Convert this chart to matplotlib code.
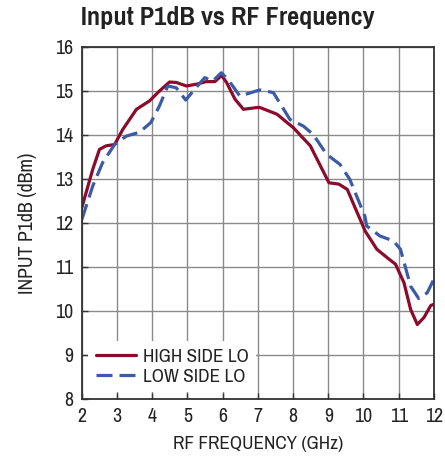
import matplotlib
matplotlib.use("Agg")
import matplotlib.pyplot as plt

# RF frequency (GHz) / input P1dB (dBm)
high_freq = [2.0, 2.31, 2.5, 2.69, 2.93, 3.16, 3.55, 3.92, 4.21, 4.49, 4.68, 4.97,
             5.25, 5.54, 5.78, 5.97, 6.11, 6.35, 6.59, 6.97, 7.06, 7.54, 8.01, 8.49,
             8.78, 9.02, 9.30, 9.54, 9.78, 10.05, 10.38, 10.67, 10.91, 11.15, 11.34,
             11.53, 11.72, 11.91, 12.0]
high_p1db = [12.35, 13.22, 13.67, 13.75, 13.78, 14.12, 14.58, 14.77, 15.0, 15.2, 15.19,
             15.11, 15.15, 15.21, 15.21, 15.35, 15.19, 14.81, 14.58, 14.62, 14.62, 14.47,
             14.16, 13.75, 13.29, 12.91, 12.88, 12.76, 12.31, 11.81, 11.40, 11.21, 11.06,
             10.64, 10.03, 9.69, 9.85, 10.12, 10.15]

low_freq = [2.0, 2.31, 2.59, 2.93, 3.26, 3.64, 3.96, 4.2, 4.44, 4.68, 4.95, 5.2, 5.49,
            5.72, 5.96, 6.15, 6.49, 6.97, 7.06, 7.44, 7.91, 8.29, 8.57, 8.95, 9.33,
            9.61, 10.04, 10.09, 10.47, 10.85, 11.05, 11.34, 11.57, 11.81, 12.0]
low_p1db = [12.08, 12.84, 13.37, 13.78, 13.97, 14.06, 14.28, 14.65, 15.11, 15.07, 14.79,
            15.03, 15.30, 15.22, 15.41, 15.26, 14.88, 15.0, 15.02, 14.96, 14.35, 14.2,
            14.01, 13.56, 13.33, 12.99, 12.15, 11.93, 11.70, 11.59, 11.40, 10.56, 10.28,
            10.41, 10.72]

x_ticks = list(range(2, 13))
y_ticks = list(range(8, 17))

plt.rcParams['font.family'] = ['Pragati Narrow', 'Archivo Narrow', 'DejaVu Sans']

fig = plt.figure(figsize=(4.45, 4.59), dpi=100)
ax = fig.add_axes([0.184, 0.131, 0.791, 0.767])

red = "#8c0a2c"
blue = "#3b5ba8"
ax.plot(high_freq, high_p1db, color=red, lw=2.3, label="HIGH SIDE LO",
        solid_joinstyle="round", solid_capstyle="round")
ax.plot(low_freq, low_p1db, color=blue, lw=2.3, label="LOW SIDE LO",
        dashes=(5, 2.2), dash_capstyle="butt")

ax.set_xlim(2, 12)
ax.set_ylim(8, 16)
ax.set_xticks(x_ticks)
ax.set_yticks(y_ticks)
ax.grid(True, color="#8a8a8a", lw=1.0)
ax.set_axisbelow(True)
for s in ax.spines.values():
    s.set_color("#333333")
    s.set_linewidth(1.3)
ax.tick_params(direction="in", length=4, width=1, colors="#333333",
               labelcolor="#222222", labelsize=15.5, pad=6)

ax.set_xlabel("RF FREQUENCY (GHz)", fontsize=15, color="#222222", labelpad=7)
ax.set_ylabel("INPUT P1dB (dBm)", fontsize=15.5, color="#222222", labelpad=13)
fig.text(0.512, 0.962, "Input P1dB vs RF Frequency", ha="center", va="center",
         fontsize=20.5, fontweight="bold", color="#222222")

# legend sits low on the left, white box hides the grid behind it
leg = ax.legend(loc="lower left", bbox_to_anchor=(0.0, 0.0), frameon=True,
                fontsize=15, handlelength=1.95, handletextpad=0.3,
                labelspacing=0.1, borderpad=0.35, borderaxespad=0.31)
leg.get_frame().set_facecolor("white")
leg.get_frame().set_edgecolor("none")
leg.get_frame().set_alpha(1.0)
for t in leg.get_texts():
    t.set_color("#222222")

fig.savefig("out.png", dpi=100)
